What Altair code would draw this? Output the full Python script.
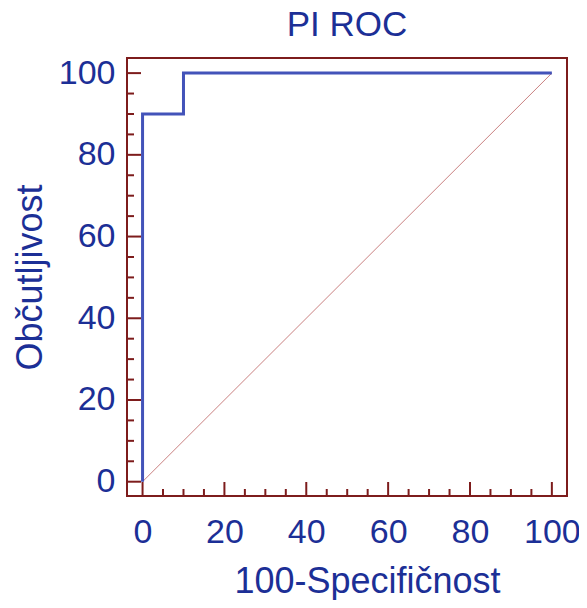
import altair as alt
import pandas as pd

# ROC curve points (100-Specificity, Sensitivity)
roc_x = [0, 0, 10, 10, 100]
roc_y = [0, 90, 90, 100, 100]
diag_x = [0, 100]
diag_y = [0, 100]
major_ticks = [0, 20, 40, 60, 80, 100]
minor_ticks = [v for v in range(0, 101, 5) if v % 20 != 0]

TEXT = "#1c2f96"
FRAME = "#7d1c1c"
BLUE = "#4353b9"
DIAG = "#c98080"
FONT = "Liberation Sans"
W, H = 440, 438

roc = pd.DataFrame({"x": roc_x, "y": roc_y, "o": range(len(roc_x))})
diag = pd.DataFrame({"x": diag_x, "y": diag_y, "o": range(len(diag_x))})
maj = pd.DataFrame({"v": major_ticks})
mnr = pd.DataFrame({"v": minor_ticks})

xs = alt.Scale(domain=[-3.8, 103.7], nice=False, zero=False)
ys = alt.Scale(domain=[-3.5, 103.7], nice=False, zero=False)

xaxis = alt.Axis(values=major_ticks, title="100-Specifičnost", grid=False, ticks=False,
                 domain=False, labelFontSize=34, labelColor=TEXT, labelFont=FONT,
                 labelPadding=19, titleFontSize=36, titleColor=TEXT, titleFont=FONT,
                 titleFontWeight="normal", titlePadding=15, titleX=240, labelFlush=False)
yaxis = alt.Axis(values=major_ticks, title="Občutljivost", grid=False, ticks=False,
                 domain=False, labelFontSize=34, labelColor=TEXT, labelFont=FONT,
                 labelPadding=12, titleFontSize=36, titleColor=TEXT, titleFont=FONT,
                 titleFontWeight="normal", titlePadding=9, labelFlush=False)

diag_line = alt.Chart(diag).mark_line(color=DIAG, strokeWidth=1).encode(
    x=alt.X("x:Q", scale=xs, axis=xaxis),
    y=alt.Y("y:Q", scale=ys, axis=yaxis),
    order="o:Q",
)
roc_line = alt.Chart(roc).mark_line(color=BLUE, strokeWidth=3, interpolate="linear").encode(
    x=alt.X("x:Q", scale=xs),
    y=alt.Y("y:Q", scale=ys),
    order="o:Q",
)

def xticks(df, length):
    return alt.Chart(df).mark_rule(color=FRAME, strokeWidth=2).encode(
        x=alt.X("v:Q", scale=xs),
        y=alt.value(H),
        y2=alt.value(H - length),
    )

def yticks(df, length):
    return alt.Chart(df).mark_rule(color=FRAME, strokeWidth=2).encode(
        y=alt.Y("v:Q", scale=ys),
        x=alt.value(0),
        x2=alt.value(length),
    )

chart = alt.layer(
    diag_line, roc_line,
    xticks(maj, 14), xticks(mnr, 7), yticks(maj, 14), yticks(mnr, 7),
).properties(
    width=W, height=H,
    title=alt.TitleParams(text="PI ROC", fontSize=35, color=TEXT, font=FONT, fontWeight="normal",
                          anchor="middle", offset=13),
    autosize=alt.AutoSizeParams(type="none"),
    padding={"left": 119, "top": 50, "right": 12, "bottom": 104},
).configure_view(
    stroke=FRAME, strokeWidth=2,
)

chart.save("out.html", embed_options={"renderer": "svg", "actions": False})
